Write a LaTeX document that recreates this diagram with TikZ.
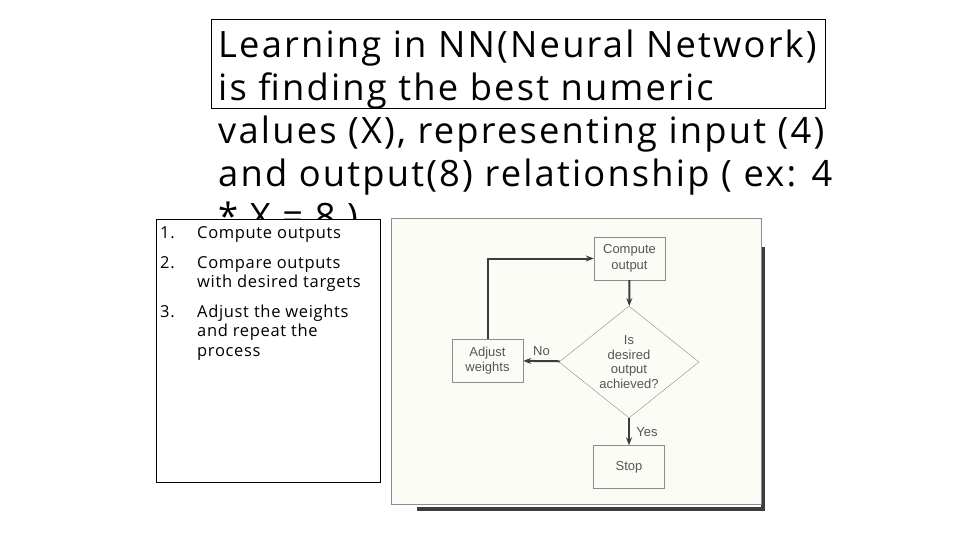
\documentclass[tikz,border=0pt]{standalone}
\usepackage{fontspec}
\setmainfont{Open Sans}
\newfontfamily\slidefont[LetterSpace=6.0]{Open Sans}
\newfontfamily\listfont[LetterSpace=4.0]{Open Sans}
\newfontfamily\scanfont{Liberation Sans}
\usepackage{tikz}
\usetikzlibrary{positioning,arrows.meta,shapes.geometric,calc}
\definecolor{inkgray}{RGB}{85,85,85}
\definecolor{boxgray}{RGB}{140,140,140}
\definecolor{paperfill}{RGB}{252,252,247}
\definecolor{shadowgray}{RGB}{60,60,60}
\newcommand{\stepline}[2]{\makebox[37pt][l]{#1}\parbox[t]{180pt}{\raggedright #2}}
\tikzset{
  titletext/.style={anchor=north west, inner sep=0pt, align=left,
                    font=\slidefont\fontsize{36.3}{43}\selectfont},
  stepitem/.style ={anchor=north west, inner sep=0pt, align=left,
                    font=\listfont\fontsize{16.5}{19.3}\selectfont},
  fcbox/.style    ={rectangle, draw=boxgray, fill=paperfill, text=inkgray, align=center,
                    minimum width=71pt, minimum height=43pt, inner sep=1pt,
                    font=\scanfont\fontsize{13}{15.5}\selectfont},
  fcdec/.style    ={diamond, draw=boxgray, fill=paperfill, text=inkgray, align=center,
                    minimum width=140pt, minimum height=96pt, inner sep=0pt,
                    font=\scanfont\fontsize{13}{14.5}\selectfont},
  fcflow/.style   ={-{Stealth[length=8pt,width=6pt]}, line width=2pt, draw=shadowgray},
  fclabel/.style  ={text=inkgray, font=\scanfont\fontsize{13}{15}\selectfont},
}
\begin{document}
\begin{tikzpicture}[x=1pt,y=-1pt]
\useasboundingbox[fill=white] (0,0) rectangle (960,540);

% title
\node[titletext] (title) at (218,30) {Learning in NN(Neural Network)\\
  is finding the best numeric\\
  values (X), representing input (4)\\
  and output(8) relationship ( ex: 4\\
  * X = 8 )};
\draw[black, line width=0.8pt] (211,19) rectangle (825,108);

% steps
\node[draw=black, line width=0.8pt, fill=white, minimum width=224pt, minimum height=263pt,
      anchor=north west, inner sep=0pt] (steps) at (156,219) {};
\node[stepitem] (s1) at (160,226) {\stepline{1.}{Compute outputs}};
\node[stepitem, below=14pt of s1.south west, anchor=north west] (s2)
     {\stepline{2.}{Compare outputs\\with desired targets}};
\node[stepitem, below=13pt of s2.south west, anchor=north west] (s3)
     {\stepline{3.}{Adjust the weights\\and repeat the\\process}};

% scanned flowchart
\draw[shadowgray, line width=3.5pt] (763,247) -- (763,509) -- (417,509);
\draw[boxgray, fill=paperfill, line width=1pt] (391,218) rectangle (761,504);
\node[fcbox] (comp) at (629.5,258.5) {Compute\\output};
\node[fcdec] (check) at (629,362) {Is\\desired\\output\\achieved?};
\node[fcbox] (adj)  at (487.5,360.5) {Adjust\\weights};
\node[fcbox] (stop) at (629,467) {Stop};

\draw[fcflow] (comp) -- (check);
\draw[fcflow] (check) -- node[fclabel, above=1pt]{No} (adj);
\draw[fcflow] (check) -- node[fclabel, right=3pt]{Yes} (stop);
\draw[fcflow] (adj.north) |- (comp.west);
\end{tikzpicture}
\end{document}
